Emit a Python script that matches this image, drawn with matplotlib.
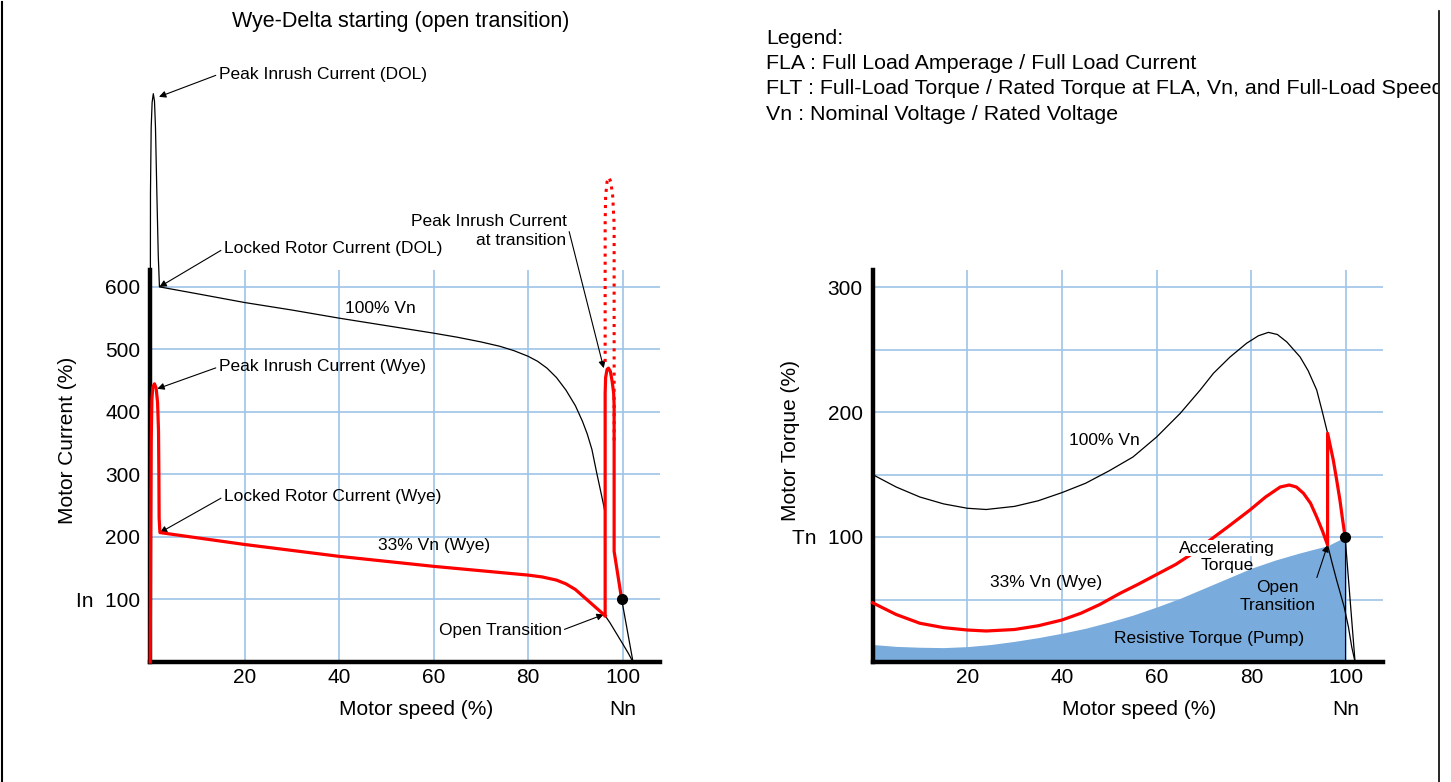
import numpy as np
import matplotlib
matplotlib.use('Agg')
import matplotlib.pyplot as plt
from matplotlib.lines import Line2D

plt.rcParams['font.family'] = ['Liberation Sans', 'DejaVu Sans']

# ---- motor current (left chart), speed in %, current in % of In ----
dol_speed = [0.0, 0.05, 0.1, 0.25, 0.45, 0.7, 0.95, 1.16, 1.45, 1.75, 2.0,
             10, 20, 30, 40, 50, 60, 65, 70, 74, 77, 80, 82, 84, 86, 88, 90, 91.5,
             92.5, 93.5, 94.5, 95.3, 96.0, 96.3]
dol_current = [0, 400, 750, 855, 895, 909, 897, 855, 750, 650, 600,
               589, 575, 563, 550, 538, 526, 519.5, 512, 505, 498, 489, 481, 470, 455,
               435, 410, 385, 365, 340, 303, 275, 250, 238]

wye_speed = [0.05, 0.15, 0.25, 0.4, 0.6, 0.95, 1.3, 1.6, 1.8, 1.88, 1.93, 2.1,
             20, 40, 60, 70, 80, 83, 86, 88, 90, 91.5, 93, 94.5, 96.3]
wye_current = [0, 200, 350, 420, 440, 445, 438, 415, 370, 300, 230, 207,
               188, 169, 153, 146, 139, 136, 131, 125, 116, 106, 96, 86, 74]

delta_speed = [96.3, 96.3, 96.4, 96.7, 97.0, 97.4, 97.8, 98.1, 98.2, 98.2, 99.8]
delta_current = [74, 430, 455, 468, 470, 465, 448, 430, 410, 177, 100]

peak_dotted_speed = [96.3, 96.3, 96.4, 96.7, 97.1, 97.5, 97.9, 98.2, 98.2]
peak_dotted_current = [480, 700, 745, 768, 775, 768, 745, 700, 348]

wye_tail_speed = [96.3, 97.3, 98.5, 100.1, 101.2, 102.2]
wye_tail_current = [74, 63, 48, 28, 14, 0]

run_tail_speed = [99.8, 102.2]
run_tail_current = [100, 0]

# ---- motor torque (right chart), torque in % of Tn ----
full_speed = [0, 5, 10, 15, 20, 24, 30, 35, 40, 45, 50, 55, 60, 65, 69.2, 72, 75.5,
              79, 81.5, 83.6, 85.5, 87.5, 90.3, 92, 93.8, 95, 96.1, 97.3, 98.7, 99.8,
              101.9]
full_torque = [150, 140, 132, 126.5, 123, 122, 124.5, 129, 135.5, 143, 153, 164, 180,
               199, 217.6, 231, 244, 255, 261, 263.7, 262, 256, 244, 233, 217.6, 200,
               183, 161.6, 129.6, 100, 0]

wye_t_speed = [0, 5, 10, 15, 20, 24, 30, 35, 40, 44, 48, 52.3, 56, 60, 64, 67.1, 71.3,
               75, 79.7, 83, 86.1, 88, 89.5, 91, 92.5, 93.8, 95, 96.1,
               96.1, 97.3, 98, 98.7, 99.3, 99.8]
wye_torque = [47.4, 38, 31, 27.5, 25.6, 24.8, 26, 29, 33.6, 39, 46, 55, 62, 70, 78,
              85.6, 97.6, 108, 121.6, 132, 140, 141.6, 140, 135, 127, 116, 105, 93.6,
              183, 161.6, 146, 129.6, 113, 100]

wye_t_tail_speed = [96.1, 97, 98, 99.6, 100.5, 101.2, 101.9]
wye_t_tail_torque = [93.6, 80, 65.6, 44, 28, 12, 0]

pump_speed = [0, 5, 10, 15, 20, 25, 30, 35, 40, 45, 50, 55, 60, 65, 70, 75, 80, 85,
              90, 93, 96.1, 99.8]
pump_torque = [14, 12.5, 11.8, 11.5, 12.3, 14, 16.5, 19.5, 23, 27, 32, 37.5, 44, 51,
               59, 67, 75, 81.5, 87, 90, 93, 100]

speed_ticks = [20, 40, 60, 80, 100]
current_ticks = [100, 200, 300, 400, 500, 600]
current_labels = ['In  100', '200', '300', '400', '500', '600']
torque_ticks = [100, 200, 300]
torque_minor = [50, 150, 250]
torque_labels = ['Tn  100', '200', '300']

legend_lines = ['Legend:',
                'FLA : Full Load Amperage / Full Load Current',
                'FLT : Full-Load Torque / Rated Torque at FLA, Vn, and Full-Load Speed',
                'Vn : Nominal Voltage / Rated Voltage']

GRID = '#9dc4e8'
RED = '#ff0000'
FILL = '#79abdc'
W, H = 1451, 782


def setup_axes(ax, ymax, yticks, ylabels, ylabel, minor=None):
    ax.set_xlim(0, 107.8)
    ax.set_ylim(0, ymax)
    ax.set_xticks(speed_ticks)
    ax.set_yticks(yticks)
    ax.set_yticklabels(ylabels)
    if minor:
        ax.set_yticks(minor, minor=True)
    ax.grid(True, which='both', color=GRID, lw=1.2)
    ax.set_axisbelow(True)
    ax.tick_params(which='both', length=0, labelsize=15)
    ax.tick_params(axis='y', pad=7)
    ax.tick_params(axis='x', pad=4)
    for s in ['top', 'right']:
        ax.spines[s].set_visible(False)
    for s in ['left', 'bottom']:
        ax.spines[s].set_linewidth(3.2)
    ax.set_xlabel('Motor speed (%)', fontsize=15)
    ax.xaxis.set_label_coords(0.523, -0.096)
    ax.set_ylabel(ylabel, fontsize=15, va='center')
    ax.yaxis.set_label_coords(-0.161, 0.566)
    ax.text(100, -0.096, 'Nn', transform=ax.get_xaxis_transform(),
            ha='center', va='top', fontsize=15)


def note(ax, text, tip, pos, ha='left', relpos=(0, 0.5), spacing=1.2):
    ax.annotate(text, xy=tip, xytext=pos, ha=ha, va='center', fontsize=12.5,
                annotation_clip=False, multialignment=ha, linespacing=spacing,
                arrowprops=dict(arrowstyle='-|>', color='black', lw=0.8,
                                mutation_scale=10, shrinkA=0, shrinkB=0,
                                relpos=relpos))


fig = plt.figure(figsize=(W / 100, H / 100), dpi=100)
ax1 = fig.add_axes([150 / W, 1 - 662 / H, 509.5 / W, 392 / H])
ax2 = fig.add_axes([872.5 / W, 1 - 662 / H, 510.5 / W, 392 / H])

# ---- left: current ----
setup_axes(ax1, 627, current_ticks, current_labels, 'Motor Current (%)')
ax1.plot(dol_speed, dol_current, color='black', lw=0.9, clip_on=False, zorder=3)
ax1.plot(wye_tail_speed, wye_tail_current, color='black', lw=0.9, clip_on=False, zorder=3)
ax1.plot(run_tail_speed, run_tail_current, color='black', lw=0.9, clip_on=False, zorder=3)
ax1.plot(wye_speed, wye_current, color=RED, lw=2.3, clip_on=False, zorder=4)
ax1.plot(delta_speed, delta_current, color=RED, lw=2.3, clip_on=False, zorder=4)
ax1.plot(peak_dotted_speed, peak_dotted_current, color=RED, lw=2.2, ls=':',
         clip_on=False, zorder=4)
ax1.plot(delta_speed[-1], delta_current[-1], 'o', color='black', ms=7,
         clip_on=False, zorder=5)

i_pk = int(np.argmax(dol_current))
note(ax1, 'Peak Inrush Current (DOL)', (dol_speed[i_pk] + 1.2, dol_current[i_pk] - 5), (14.5, 940))
i_lr = dol_speed.index(2.0)
note(ax1, 'Locked Rotor Current (DOL)', (dol_speed[i_lr], dol_current[i_lr]), (15.6, 661))
i_wp = int(np.argmax(wye_current))
note(ax1, 'Peak Inrush Current (Wye)', (wye_speed[i_wp] + 0.6, wye_current[i_wp] - 8), (14.5, 472))
i_wl = wye_speed.index(2.1)
note(ax1, 'Locked Rotor Current (Wye)', (wye_speed[i_wl], wye_current[i_wl]), (15.6, 264.5))
i_dp = int(np.argmax(delta_current))
note(ax1, 'Peak Inrush Current\nat transition', (delta_speed[i_dp] - 1.0, delta_current[i_dp]),
     (88.1, 689.5), ha='right', relpos=(1, 0.8), spacing=1.35)
note(ax1, 'Open Transition', (delta_speed[0] - 0.3, delta_current[0] + 2), (87.1, 50.5),
     ha='right', relpos=(1, 0.5))
ax1.text(48.8, 566, '100% Vn', ha='center', va='center', fontsize=12.5)
ax1.text(60, 186, '33% Vn (Wye)', ha='center', va='center', fontsize=12.5)

# ---- right: torque ----
setup_axes(ax2, 313.6, torque_ticks, torque_labels, 'Motor Torque (%)', minor=torque_minor)
ax2.fill_between(pump_speed, 0, pump_torque, color=FILL, lw=0, zorder=1.5)
ax2.vlines(pump_speed[-1], 0, pump_torque[-1], color='black', lw=0.8, zorder=3)
ax2.plot(full_speed, full_torque, color='black', lw=0.9, clip_on=False, zorder=3)
ax2.plot(wye_t_tail_speed, wye_t_tail_torque, color='black', lw=0.9, clip_on=False, zorder=3)
ax2.plot(wye_t_speed, wye_torque, color=RED, lw=2.3, clip_on=False, zorder=4)
ax2.plot(wye_t_speed[-1], wye_torque[-1], 'o', color='black', ms=7, clip_on=False, zorder=5)

ax2.text(48.9, 177.6, '100% Vn', ha='center', va='center', fontsize=12.5)
ax2.text(36.6, 64, '33% Vn (Wye)', ha='center', va='center', fontsize=12.5)
ax2.text(74.9, 91.2, 'Accelerating', ha='center', va='center', fontsize=12.5, zorder=6,
         bbox=dict(facecolor='white', edgecolor='none', pad=0.5))
ax2.text(74.9, 77.0, 'Torque', ha='center', va='center', fontsize=12.5, zorder=6)
ax2.text(71.1, 19.2, 'Resistive Torque (Pump)', ha='center', va='center', fontsize=12.5, zorder=6)
i_ot = wye_t_speed.index(96.1)
note(ax2, 'Open\nTransition', (wye_t_speed[i_ot], wye_torque[i_ot]), (85.6, 52.4),
     ha='center', relpos=(0.97, 0.78))

# ---- title, legend text, page frame ----
fig.text(401 / W, 1 - 22 / H, 'Wye-Delta starting (open transition)',
         ha='center', va='center', fontsize=15.5)

ax_leg = fig.add_axes([0, 0, 1438 / W, 1])
ax_leg.axis('off')
for k, line in enumerate(legend_lines):
    t = ax_leg.text(766 / 1438, 1 - (38 + 25.5 * k) / H, line, transform=ax_leg.transAxes,
                    ha='left', va='center', fontsize=15.4, clip_on=True)
    t.set_clip_box(ax_leg.bbox)

fig.add_artist(Line2D([2 / W, 2 / W], [0, 1 - 2 / H], transform=fig.transFigure,
                      color='black', lw=1.5))
fig.add_artist(Line2D([1439 / W, 1439 / W], [0, 1 - 11 / H], transform=fig.transFigure,
                      color='black', lw=1.2))

fig.savefig('out.png', dpi=100)
